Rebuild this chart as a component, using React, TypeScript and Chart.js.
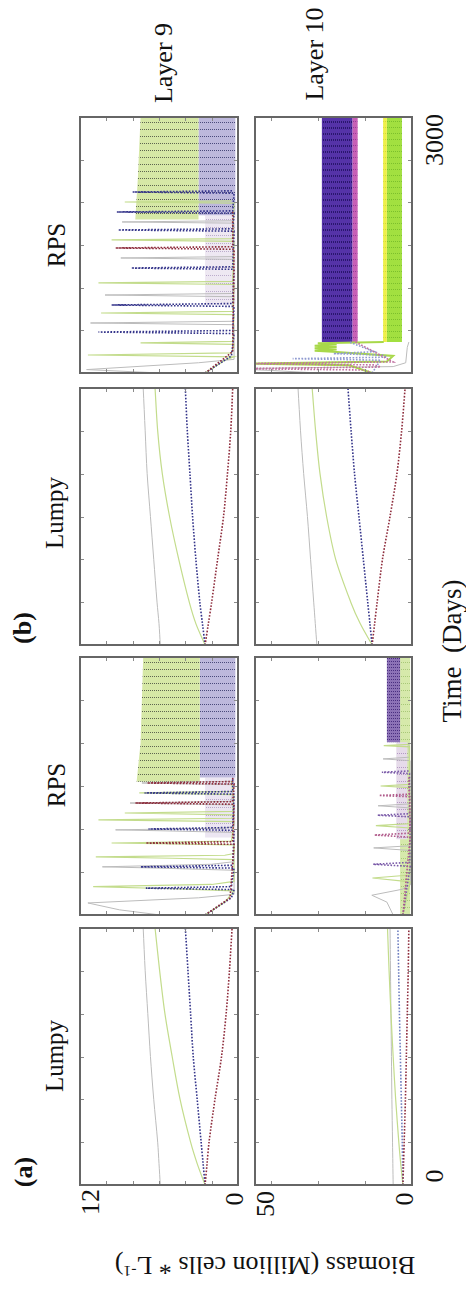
import React, { useEffect, useRef } from 'react';
import { Chart, registerables } from 'chart.js';

Chart.register(...registerables);

// ---------------- axes ----------------
const TIME_MAX = 3000;
const timeTicks = [500, 1000, 1500, 2000, 2500];
const layer9Max = 12;
const layer10Max = 50;
const layer9Ticks = [2, 4, 6, 8, 10];
const layer10Ticks = [15, 30, 45];

// ---------------- Lumpy panels (value at each day) ----------------
const lumpyDays = [0, 250, 500, 1000, 1500, 2000, 2500, 3000];
const aLumpy9Gray = [5.9, 6.0, 6.1, 6.4, 6.65, 6.85, 7.05, 7.2];
const aLumpy9Green = [2.5, 3.1, 3.6, 4.4, 5.0, 5.55, 5.95, 6.3];
const aLumpy9Blue = [2.5, 2.65, 2.8, 3.1, 3.4, 3.6, 3.8, 4.0];
const aLumpy9Red = [2.5, 2.35, 2.2, 1.75, 1.25, 0.9, 0.65, 0.45];

const aLumpy10Gray = [6.0, 6.1, 6.2, 6.4, 6.55, 6.7, 6.85, 7.0];
const aLumpy10Green = [2.9, 3.6, 4.2, 5.2, 6.0, 6.7, 7.3, 7.8];
const aLumpy10Blue = [2.9, 3.0, 3.1, 3.4, 3.7, 4.0, 4.25, 4.5];
const aLumpy10Red = [2.9, 2.7, 2.5, 2.1, 1.8, 1.5, 1.2, 1.0];

const bLumpy9Gray = [5.9, 6.0, 6.15, 6.4, 6.65, 6.9, 7.05, 7.2];
const bLumpy9Green = [2.5, 3.2, 3.7, 4.5, 5.2, 5.75, 6.1, 6.3];
const bLumpy9Blue = [2.5, 2.7, 2.9, 3.2, 3.45, 3.65, 3.85, 4.0];
const bLumpy9Red = [2.5, 2.25, 2.0, 1.55, 1.1, 0.8, 0.55, 0.4];

const bLumpy10Gray = [30.3, 30.8, 31.3, 32.3, 33.3, 34.5, 35.5, 36.3];
const bLumpy10Green = [12.7, 16.5, 19.5, 24.3, 27.2, 29.3, 30.7, 31.8];
const bLumpy10Blue = [12.7, 13.4, 14.1, 15.5, 16.9, 18.3, 19.4, 20.4];
const bLumpy10Red = [12.7, 11.9, 11.1, 9.4, 7.0, 4.8, 3.3, 2.2];

// ---------------- RPS panels: [day, biomass] ----------------
const aRps9Gray: [number, number][] = [[0, 5.9], [60, 9], [140, 11.4], [200, 3], [240, 0.3], [520, 0.3], [545, 6], [560, 10.3], [590, 2], [620, 0.3], [960, 0.3], [980, 6], [990, 9.3], [1010, 1], [1030, 0.3], [1280, 0.3], [1302, 8.2], [1322, 0.5], [1515, 0.3], [1535, 7.3], [1555, 0.5]];
const aRps9Green: [number, number][] = [[0, 2.5], [150, 1], [280, 0.3], [305, 5], [330, 11.0], [355, 2], [390, 0.3], [645, 0.3], [660, 5], [675, 10.8], [695, 1], [715, 0.3], [815, 0.3], [837, 9.6], [858, 0.5], [1085, 0.3], [1105, 10.6], [1125, 0.5], [1165, 0.3], [1186, 8.6], [1205, 0.4], [1400, 0.3], [1419, 7.5], [1438, 0.4], [1560, 0.5]];
const aRps9Blue: [number, number][] = [[0, 2.5], [200, 0.5], [295, 0.3], [312, 7.0], [330, 0.5], [545, 0.3], [560, 7.4], [578, 0.4], [985, 0.3], [1000, 6.8], [1018, 0.4], [1405, 0.3], [1419, 7.1], [1436, 0.4], [1600, 0.4]];
const aRps9Red: [number, number][] = [[0, 2.5], [200, 0.6], [822, 0.3], [837, 7.0], [853, 0.4], [1288, 0.3], [1302, 7.8], [1318, 0.4], [1522, 0.3], [1535, 6.9], [1552, 0.4], [1600, 0.4]];
// bands: [day, low, high]
const aRps9GreenBand: [number, number, number][] = [[1550, 2.9, 7.7], [2000, 2.9, 7.4], [2500, 2.9, 7.3], [3000, 2.9, 7.2]];
const aRps9PurpleBand: [number, number, number][] = [[1600, 0.2, 2.9], [3000, 0.2, 2.9]];
const aRps9PaleBand: [number, number, number][] = [[900, 0.2, 2.5], [1600, 0.2, 2.5]];

const bRps9Gray: [number, number][] = [[0, 5.9], [40, 11.5], [120, 3], [160, 0.3], [566, 0.3], [586, 11.2], [606, 0.4], [894, 0.3], [914, 10.1], [932, 0.4], [1332, 0.3], [1348, 8.9], [1364, 0.4], [1756, 0.3], [1770, 8.8], [1784, 0.4]];
const bRps9Green: [number, number][] = [[0, 2.5], [150, 1], [190, 0.3], [211, 11.4], [235, 0.5], [335, 0.3], [352, 7.4], [370, 0.4], [684, 0.3], [703, 10.4], [722, 0.4], [1037, 0.3], [1055, 10.6], [1073, 0.4], [1543, 0.3], [1559, 9.6], [1575, 0.4], [1990, 0.3], [2004, 8.6], [2018, 0.5]];
const bRps9Blue: [number, number][] = [[0, 2.5], [200, 0.5], [462, 0.3], [480, 10.6], [498, 0.4], [780, 0.3], [797, 9.6], [814, 0.4], [1215, 0.3], [1230, 8.1], [1245, 0.4], [1662, 0.3], [1676, 9.1], [1690, 0.4], [1874, 0.3], [1887, 9.2], [1900, 0.4], [2107, 0.3], [2121, 8.0], [2135, 0.4]];
const bRps9Red: [number, number][] = [[0, 2.5], [250, 0.4], [1450, 0.3], [1465, 9.3], [1480, 0.4], [1900, 0.4]];
const bRps9GreenBand: [number, number, number][] = [[1800, 3.0, 7.8], [2300, 3.0, 7.6], [3000, 3.0, 7.4]];
const bRps9PurpleBand: [number, number, number][] = [[1850, 0.2, 3.0], [3000, 0.2, 3.0]];
const bRps9PaleBand: [number, number, number][] = [[800, 0.2, 2.5], [1850, 0.2, 2.5]];

const aRps10Gray: [number, number][] = [[0, 6.0], [150, 8], [230, 12.8], [300, 3], [350, 0.6], [750, 0.5], [780, 12.2], [805, 0.6], [1245, 0.5], [1270, 10.8], [1292, 0.6], [1795, 0.6], [1815, 9.2], [1835, 0.8], [2000, 1]];
const aRps10Green: [number, number][] = [[0, 2.9], [385, 0.6], [430, 12.6], [465, 0.7], [1012, 0.6], [1040, 11.5], [1063, 0.7], [1482, 0.7], [1500, 10.0], [1518, 0.8], [1955, 0.8], [1970, 9.0], [1985, 1]];
const aRps10Blue: [number, number][] = [[0, 2.9], [565, 0.6], [590, 12.4], [612, 0.7], [1142, 0.6], [1160, 11.0], [1178, 0.8], [1645, 0.8], [1660, 9.6], [1675, 1]];
const aRps10Red: [number, number][] = [[0, 2.9], [905, 0.6], [930, 12.0], [952, 0.7], [1375, 0.7], [1390, 10.5], [1405, 0.9], [1600, 1]];
const aRps10GreenBand: [number, number, number][] = [[0, 0.6, 3.8], [3000, 0.6, 3.8]];
const aRps10PaleBand: [number, number, number][] = [[880, 1.5, 5.0], [2010, 1.5, 5.0]];
const aRps10PurpleBand: [number, number, number][] = [[2010, 3.8, 8.0], [3000, 3.8, 8.0]];

const bRps10Gray: [number, number][] = [[0, 30], [30, 45], [51, 58], [75, 6], [120, 2], [300, 1.5], [363, 1]];
const bRps10Green: [number, number][] = [[0, 12.7], [90, 20], [110, 55], [135, 8], [200, 6], [245, 24], [260, 31], [275, 24], [290, 31], [305, 24], [320, 31], [335, 24], [350, 30], [363, 9]];
const bRps10Blue: [number, number][] = [[0, 12.7], [150, 10], [168, 38], [185, 8], [210, 9], [227, 25], [250, 12], [363, 20]];
const bRps10Red: [number, number][] = [[0, 12.7], [35, 15], [51, 56], [70, 10], [95, 12], [110, 54], [130, 6], [363, 18]];
const bRps10PurpleBand: [number, number, number][] = [[363, 19.0, 28.7], [3000, 19.0, 28.7]];
const bRps10PinkBand: [number, number, number][] = [[363, 17.3, 19.0], [3000, 17.3, 19.0]];
const bRps10GreenBand: [number, number, number][] = [[363, 3.2, 8.0], [3000, 3.2, 8.0]];
const bRps10YellowBand: [number, number, number][] = [[363, 8.0, 9.2], [3000, 8.0, 9.2]];

// ---------------- styles ----------------
const PAD = 2;
const SERIF = "'Liberation Serif', 'Times New Roman', serif";
const STY = {
  gray: { color: '#bcbcbc', width: 1, dash: [] as number[] },
  green: { color: '#c3dc8c', width: 1.2, dash: [] as number[] },
  blue: { color: '#34348a', width: 1.6, dash: [1.6, 1.6] },
  red: { color: '#8e2c3c', width: 1.6, dash: [1.6, 1.6] },
};
type Sty = { color: string; width: number; dash: number[] };

function makePattern(base: string, dot: string | null, w: number, h: number, rows: number[]) {
  const c = document.createElement('canvas');
  c.width = w;
  c.height = h;
  const g = c.getContext('2d')!;
  g.fillStyle = base;
  g.fillRect(0, 0, w, h);
  if (dot) {
    g.fillStyle = dot;
    for (const r of rows) for (let x = 0; x < w; x += 2) g.fillRect(x, r, 1, 1);
  }
  return g.createPattern(c, 'repeat');
}

function fromDays(days: number[], vals: number[], s: Sty) {
  return {
    data: days.map((t, i) => ({ x: vals[i], y: t })),
    borderColor: s.color, borderWidth: s.width, borderDash: s.dash,
    pointRadius: 0, fill: false, tension: 0.3,
  };
}
function fromPairs(pairs: [number, number][], s: Sty) {
  return {
    data: pairs.map(([t, v]) => ({ x: v, y: t })),
    borderColor: s.color, borderWidth: s.width, borderDash: s.dash,
    pointRadius: 0, fill: false, tension: 0,
  };
}
function band(rows: [number, number, number][], bg: any) {
  const hi = rows.map((r) => ({ x: r[2], y: r[0] }));
  const lo = rows.slice().reverse().map((r) => ({ x: r[1], y: r[0] }));
  return {
    data: [...hi, ...lo],
    borderWidth: 0, borderColor: 'rgba(0,0,0,0)',
    backgroundColor: bg, fill: 'shape', pointRadius: 0, tension: 0,
  };
}

type PanelSpec = { left: number; top: number; width: number; height: number; xMax: number; xTicks: number[]; build: () => any[] };

const COL9 = { left: 80, width: 158 };
const COL10 = { left: 255, width: 157 };
const ROW_B_RPS = { top: 117, height: 256 };
const ROW_B_LUMPY = { top: 388, height: 257 };
const ROW_A_RPS = { top: 657, height: 258 };
const ROW_A_LUMPY = { top: 928, height: 257 };

const panels: PanelSpec[] = [
  {
    ...COL9, ...ROW_A_LUMPY, xMax: layer9Max, xTicks: layer9Ticks,
    build: () => [
      fromDays(lumpyDays, aLumpy9Red, STY.red),
      fromDays(lumpyDays, aLumpy9Blue, STY.blue),
      fromDays(lumpyDays, aLumpy9Green, STY.green),
      fromDays(lumpyDays, aLumpy9Gray, STY.gray),
    ],
  },
  {
    ...COL10, ...ROW_A_LUMPY, xMax: layer10Max, xTicks: layer10Ticks,
    build: () => [
      fromDays(lumpyDays, aLumpy10Red, STY.red),
      fromDays(lumpyDays, aLumpy10Blue, { ...STY.blue, color: '#6f7fc0' }),
      fromDays(lumpyDays, aLumpy10Green, STY.green),
      fromDays(lumpyDays, aLumpy10Gray, STY.gray),
    ],
  },
  {
    ...COL9, ...ROW_B_LUMPY, xMax: layer9Max, xTicks: layer9Ticks,
    build: () => [
      fromDays(lumpyDays, bLumpy9Red, STY.red),
      fromDays(lumpyDays, bLumpy9Blue, STY.blue),
      fromDays(lumpyDays, bLumpy9Green, STY.green),
      fromDays(lumpyDays, bLumpy9Gray, STY.gray),
    ],
  },
  {
    ...COL10, ...ROW_B_LUMPY, xMax: layer10Max, xTicks: layer10Ticks,
    build: () => [
      fromDays(lumpyDays, bLumpy10Red, STY.red),
      fromDays(lumpyDays, bLumpy10Blue, STY.blue),
      fromDays(lumpyDays, bLumpy10Green, STY.green),
      fromDays(lumpyDays, bLumpy10Gray, STY.gray),
    ],
  },
  {
    ...COL9, ...ROW_A_RPS, xMax: layer9Max, xTicks: layer9Ticks,
    build: () => [
      fromPairs(aRps9Red, STY.red),
      fromPairs(aRps9Blue, STY.blue),
      fromPairs(aRps9Green, STY.green),
      fromPairs(aRps9Gray, STY.gray),
      band(aRps9GreenBand, makePattern('#d6e8a6', '#5e6650', 4, 7, [0])),
      band(aRps9PurpleBand, makePattern('#bdb8dc', '#4a4a7c', 4, 7, [0])),
      band(aRps9PaleBand, makePattern('#ece6f2', '#b8a8c8', 4, 8, [0])),
    ],
  },
  {
    ...COL10, ...ROW_A_RPS, xMax: layer10Max, xTicks: layer10Ticks,
    build: () => [
      fromPairs(aRps10Red, { ...STY.red, color: '#b05a8a' }),
      fromPairs(aRps10Blue, { ...STY.blue, color: '#7a5aa8' }),
      fromPairs(aRps10Green, STY.green),
      fromPairs(aRps10Gray, STY.gray),
      band(aRps10PurpleBand, makePattern('#8c72b6', '#4a2f80', 4, 6, [0, 3])),
      band(aRps10PaleBand, makePattern('#e6dbea', '#b49ac4', 4, 7, [0])),
      band(aRps10GreenBand, makePattern('#d6e9ab', '#a8c878', 4, 7, [0])),
    ],
  },
  {
    ...COL9, ...ROW_B_RPS, xMax: layer9Max, xTicks: layer9Ticks,
    build: () => [
      fromPairs(bRps9Red, STY.red),
      fromPairs(bRps9Blue, STY.blue),
      fromPairs(bRps9Green, STY.green),
      fromPairs(bRps9Gray, STY.gray),
      band(bRps9GreenBand, makePattern('#d6e8a6', '#5e6650', 4, 7, [0])),
      band(bRps9PurpleBand, makePattern('#bdb8dc', '#4a4a7c', 4, 7, [0])),
      band(bRps9PaleBand, makePattern('#eee8f2', '#bcaccc', 4, 8, [0])),
    ],
  },
  {
    ...COL10, ...ROW_B_RPS, xMax: layer10Max, xTicks: layer10Ticks,
    build: () => [
      fromPairs(bRps10Red, { ...STY.red, color: '#c070a0' }),
      fromPairs(bRps10Blue, { ...STY.blue, color: '#8f9ad0' }),
      fromPairs(bRps10Green, { ...STY.green, color: '#a8d84a', width: 2 }),
      fromPairs(bRps10Gray, STY.gray),
      band(bRps10PurpleBand, makePattern('#5533a8', '#2a166e', 4, 6, [0, 1])),
      band(bRps10PinkBand, makePattern('#c760b6', '#9a3a9c', 4, 6, [0])),
      band(bRps10YellowBand, makePattern('#eef04a', '#d4da38', 4, 6, [0])),
      band(bRps10GreenBand, makePattern('#a2e040', '#7cc02c', 4, 6, [0])),
    ],
  },
];

function Panel({ spec }: { spec: PanelSpec }) {
  const ref = useRef<HTMLCanvasElement>(null);
  useEffect(() => {
    const canvas = ref.current;
    if (!canvas) return;
    const framePlugin = {
      id: 'frame',
      afterDraw(chart: any) {
        const { ctx, chartArea: a, scales } = chart;
        const xs = scales.x;
        const ys = scales.y;
        ctx.save();
        ctx.strokeStyle = '#8a8a8a';
        ctx.lineWidth = 1;
        ctx.beginPath();
        for (const t of timeTicks) {
          const py = Math.round(ys.getPixelForValue(t)) + 0.5;
          ctx.moveTo(a.left, py); ctx.lineTo(a.left + 4, py);
          ctx.moveTo(a.right - 4, py); ctx.lineTo(a.right, py);
        }
        for (const v of spec.xTicks) {
          const px = Math.round(xs.getPixelForValue(v)) + 0.5;
          ctx.moveTo(px, a.top); ctx.lineTo(px, a.top + 4);
          ctx.moveTo(px, a.bottom - 4); ctx.lineTo(px, a.bottom);
        }
        ctx.stroke();
        ctx.strokeStyle = '#666666';
        ctx.lineWidth = 2;
        ctx.strokeRect(a.left, a.top, a.right - a.left, a.bottom - a.top);
        ctx.restore();
      },
    };
    const chart = new Chart(canvas, {
      type: 'line',
      data: { datasets: spec.build() },
      options: {
        animation: false,
        responsive: false,
        maintainAspectRatio: false,
        devicePixelRatio: 1,
        events: [],
        layout: { padding: PAD },
        plugins: { legend: { display: false }, tooltip: { enabled: false }, title: { display: false } },
        scales: {
          x: { type: 'linear', min: 0, max: spec.xMax, reverse: true, display: false },
          y: { type: 'linear', min: 0, max: TIME_MAX, display: false },
        },
        elements: { point: { radius: 0 } },
      },
      plugins: [framePlugin],
    } as any);
    return () => chart.destroy();
  }, [spec]);
  const w = spec.width + 2 * PAD;
  const h = spec.height + 2 * PAD;
  return (
    <canvas
      ref={ref}
      width={w}
      height={h}
      style={{ position: 'absolute', left: spec.left - PAD, top: spec.top - PAD, width: w, height: h }}
    />
  );
}

type Label = { text: React.ReactNode; cx: number; cy: number; rot: number; size: number; bold?: boolean };

const labels: Label[] = [
  { text: '(a)', cx: 24, cy: 1172, rot: -90, size: 26, bold: true },
  { text: '(b)', cx: 23, cy: 628, rot: -90, size: 26, bold: true },
  { text: 'Lumpy', cx: 54, cy: 1056, rot: -90, size: 25 },
  { text: 'Lumpy', cx: 54, cy: 513, rot: -90, size: 25 },
  { text: 'RPS', cx: 56, cy: 785, rot: -90, size: 25 },
  { text: 'RPS', cx: 56, cy: 245, rot: -90, size: 25 },
  { text: 'Layer 9', cx: 164, cy: 63, rot: -90, size: 26 },
  { text: 'Layer 10', cx: 315, cy: 54, rot: -90, size: 26 },
  { text: '3000', cx: 435, cy: 140, rot: -90, size: 26 },
  { text: '0', cx: 435, cy: 1176, rot: -90, size: 26 },
  { text: '12', cx: 91, cy: 1202, rot: -90, size: 26 },
  { text: '0', cx: 235, cy: 1199, rot: -90, size: 26 },
  { text: '50', cx: 266, cy: 1204, rot: -90, size: 26 },
  { text: '0', cx: 405, cy: 1199, rot: -90, size: 26 },
  { text: <span>Biomass (Million cells * L<sup style={{ fontSize: '0.6em' }}>-1</sup>)</span>, cx: 265, cy: 1266, rot: 180, size: 26 },
  { text: 'Time  (Days)', cx: 452, cy: 651, rot: -90, size: 27 },
];

export default function App() {
  return (
    <div style={{ position: 'absolute', left: 0, top: 0, width: 466, height: 1294, background: '#ffffff', overflow: 'hidden', fontFamily: SERIF, color: '#111' }}>
      {panels.map((p, i) => (
        <Panel key={i} spec={p} />
      ))}
      {labels.map((l, i) => (
        <div
          key={'l' + i}
          style={{
            position: 'absolute', left: l.cx, top: l.cy,
            transform: `translate(-50%, -50%) rotate(${l.rot}deg)`,
            whiteSpace: 'pre', fontSize: l.size, lineHeight: 1,
            fontWeight: l.bold ? 'bold' : 'normal', fontFamily: SERIF,
          }}
        >
          {l.text}
        </div>
      ))}
    </div>
  );
}
